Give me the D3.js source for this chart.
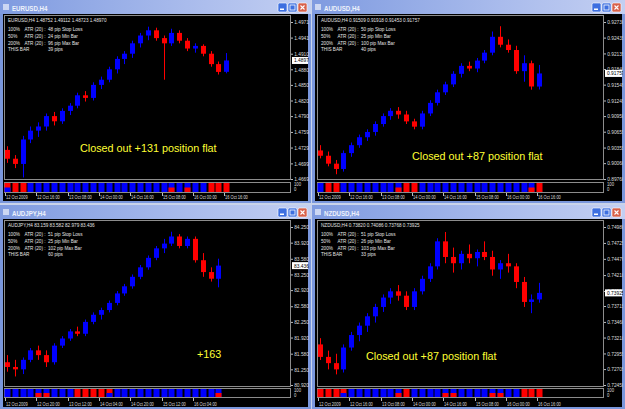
<!DOCTYPE html>
<html><head><meta charset="utf-8">
<script src="https://cdn.jsdelivr.net/npm/d3@7"></script>
<style>body{margin:0;background:#c9d3ea;} svg{display:block}</style>
</head><body>
<svg id="c" width="625" height="409"></svg>
<script>
// ---------------- DATA ----------------
const timeTicksA = ["12 Oct 2009","12 Oct 16:00","13 Oct 08:00","14 Oct 00:00","14 Oct 16:00","15 Oct 08:00","16 Oct 00:00","16 Oct 16:00"];
const timeTicksJPY = ["12 Oct 2009","12 Oct 20:00","13 Oct 12:00","14 Oct 04:00","14 Oct 20:00","15 Oct 12:00","16 Oct 04:00"];

const eurusdInfo = ["EURUSD,H4  1.48752 1.49112 1.48723 1.48970","48 pip Stop Loss","24 pip Min Bar","96 pip Max Bar","39 pips"];
const eurusdPriceTicks = [1.49710,1.49410,1.49100,1.48800,1.48500,1.48200,1.47900,1.47595,1.47295,1.46990,1.46690];
const eurusdOHLC = [
[1.4725,1.4732,1.4700,1.4708],[1.4708,1.4715,1.4690,1.4698],[1.4698,1.4752,1.4672,1.4745],[1.4745,1.4770,1.4738,1.4762],
[1.4762,1.4778,1.4750,1.4770],[1.4770,1.4795,1.4762,1.4790],[1.4790,1.4798,1.4772,1.4780],[1.4780,1.4805,1.4775,1.4800],
[1.4800,1.4815,1.4792,1.4810],[1.4810,1.4835,1.4805,1.4830],[1.4830,1.4838,1.4818,1.4825],[1.4825,1.4855,1.4820,1.4850],
[1.4850,1.4866,1.4842,1.4860],[1.4860,1.4885,1.4855,1.4880],[1.4880,1.4905,1.4872,1.4900],[1.4900,1.4915,1.4890,1.4910],
[1.4910,1.4935,1.4902,1.4930],[1.4930,1.4950,1.4922,1.4945],[1.4945,1.4962,1.4936,1.4955],[1.4955,1.4960,1.4935,1.4940],
[1.4940,1.4945,1.4860,1.4930],[1.4930,1.4958,1.4925,1.4950],[1.4950,1.4955,1.4930,1.4935],[1.4935,1.4940,1.4915,1.4920],
[1.4920,1.4930,1.4912,1.4925],[1.4925,1.4928,1.4905,1.4910],[1.4910,1.4915,1.4885,1.4890],[1.4890,1.4895,1.4870,1.4875],
[1.48752,1.49112,1.48723,1.48970]];
const eurusdIndBlue = [50,0,0,100,100,100,100,100,100,100,100,100,100,100,100,100,100,100,100,100,100,100,100,100,100,100,0,0,0];
const eurusdIndRed  = [100,100,100,0,0,0,0,0,0,0,0,0,0,0,0,0,0,0,0,0,0,50,0,50,0,0,100,100,100];
const eurusdNote = "Closed out +131 position flat";

const audusdInfo = ["AUDUSD,H4  0.91509 0.91918 0.91453 0.91757","50 pip Stop Loss","25 pip Min Bar","100 pip Max Bar","40 pips"];
const audusdPriceTicks = [0.92730,0.92435,0.92135,0.91840,0.91545,0.91245,0.90950,0.90655,0.90355,0.90060,0.89760];
const audusdOHLC = [
[0.9030,0.9040,0.9015,0.9020],[0.9020,0.9028,0.9000,0.9005],[0.9005,0.9012,0.8985,0.8995],[0.8995,0.9030,0.8990,0.9025],
[0.9025,0.9045,0.9018,0.9040],[0.9040,0.9060,0.9035,0.9055],[0.9055,0.9070,0.9048,0.9065],[0.9065,0.9085,0.9058,0.9080],
[0.9080,0.9100,0.9075,0.9095],[0.9095,0.9110,0.9088,0.9105],[0.9105,0.9112,0.9090,0.9098],[0.9098,0.9105,0.9080,0.9085],
[0.9085,0.9090,0.9070,0.9075],[0.9075,0.9105,0.9070,0.9100],[0.9100,0.9125,0.9095,0.9120],[0.9120,0.9145,0.9115,0.9140],
[0.9140,0.9160,0.9135,0.9155],[0.9155,0.9180,0.9150,0.9175],[0.9175,0.9195,0.9168,0.9190],[0.9190,0.9198,0.9180,0.9185],
[0.9185,0.9205,0.9178,0.9200],[0.9200,0.9220,0.9195,0.9215],[0.9215,0.9255,0.9210,0.9245],[0.9245,0.9265,0.9225,0.9230],
[0.9230,0.9240,0.9215,0.9220],[0.9220,0.9228,0.9175,0.9180],[0.9180,0.9210,0.9160,0.9195],[0.9195,0.9200,0.9145,0.9151],
[0.91509,0.91918,0.91453,0.91757]];
const audusdIndBlue = [100,0,0,100,100,100,100,100,100,100,100,0,0,100,100,100,100,100,100,100,100,100,100,100,100,100,100,100,0];
const audusdIndRed  = [0,100,100,0,0,0,0,0,0,0,50,100,100,0,0,0,0,0,0,0,0,0,0,0,0,0,0,50,100];
const audusdNote = "Closed out +87 position flat";

const audjpyInfo = ["AUDJPY,H4  83.159 83.582 82.979 83.436","51 pip Stop Loss","25 pip Min Bar","102 pip Max Bar","60 pips"];
const audjpyPriceTicks = [84.250,83.920,83.580,83.250,82.920,82.580,82.250,81.920,81.580,81.250,80.920];
const audjpyOHLC = [
[81.40,81.55,81.20,81.30],[81.30,81.45,81.10,81.25],[81.25,81.50,81.15,81.45],[81.45,81.70,81.40,81.65],
[81.65,81.75,81.45,81.55],[81.55,81.65,81.30,81.40],[81.40,81.80,81.35,81.75],[81.75,81.95,81.70,81.90],
[81.90,82.10,81.85,82.05],[82.05,82.15,81.95,82.00],[82.00,82.30,81.95,82.25],[82.25,82.45,82.20,82.40],
[82.40,82.55,82.30,82.50],[82.50,82.70,82.45,82.65],[82.65,82.90,82.60,82.85],[82.85,83.05,82.80,83.00],
[83.00,83.25,82.95,83.20],[83.20,83.45,83.15,83.40],[83.40,83.65,83.35,83.60],[83.60,83.85,83.55,83.80],
[83.80,84.00,83.70,83.90],[83.90,84.15,83.85,84.05],[84.05,84.10,83.80,83.85],[83.85,84.05,83.80,84.00],
[84.00,84.05,83.50,83.55],[83.55,83.70,83.20,83.30],[83.30,83.40,83.10,83.16],[83.159,83.582,82.979,83.436]];
const audjpyIndBlue = [100,100,100,100,100,100,100,100,100,0,0,0,0,50,100,100,100,100,100,100,100,100,100,100,100,100,100,100];
const audjpyIndRed  = [0,0,0,0,50,50,0,0,0,100,100,100,100,100,0,0,0,0,0,0,0,0,0,0,0,0,0,50];
const audjpyNote = "+163";

const nzdusdInfo = ["NZDUSD,H4  0.73820 0.74086 0.73768 0.73925","51 pip Stop Loss","26 pip Min Bar","103 pip Max Bar","33 pips"];
const nzdusdPriceTicks = [0.74980,0.74725,0.74470,0.74210,0.73955,0.73715,0.73460,0.73210,0.72955,0.72705,0.72450];
const nzdusdOHLC = [
[0.7310,0.7320,0.7285,0.7290],[0.7290,0.7300,0.7270,0.7280],[0.7280,0.7295,0.7262,0.7270],[0.7270,0.7310,0.7265,0.7305],
[0.7305,0.7330,0.7300,0.7325],[0.7325,0.7345,0.7315,0.7340],[0.7340,0.7360,0.7330,0.7355],[0.7355,0.7375,0.7345,0.7370],
[0.7370,0.7390,0.7362,0.7385],[0.7385,0.7400,0.7375,0.7395],[0.7395,0.7405,0.7380,0.7388],[0.7388,0.7395,0.7365,0.7370],
[0.7370,0.7400,0.7365,0.7395],[0.7395,0.7420,0.7390,0.7415],[0.7415,0.7440,0.7410,0.7435],[0.7435,0.7480,0.7430,0.7475],
[0.7475,0.7490,0.7440,0.7450],[0.7450,0.7465,0.7425,0.7440],[0.7440,0.7460,0.7430,0.7455],[0.7455,0.7470,0.7440,0.7448],
[0.7448,0.7462,0.7435,0.7458],[0.7458,0.7475,0.7445,0.7450],[0.7450,0.7460,0.7420,0.7430],[0.7430,0.7445,0.7415,0.7440],
[0.7440,0.7455,0.7425,0.7435],[0.7435,0.7440,0.7400,0.7410],[0.7410,0.7418,0.7370,0.7378],[0.7378,0.7390,0.7360,0.7382],
[0.73820,0.74086,0.73768,0.73925]];
const nzdusdIndBlue = [0,0,0,50,100,100,100,100,100,100,100,0,100,100,100,100,100,100,100,100,100,100,100,100,100,100,0,0,0];
const nzdusdIndRed  = [100,100,100,100,0,0,0,0,0,0,50,100,0,0,0,0,50,50,0,0,0,0,50,50,0,0,100,100,100];
const nzdusdNote = "Closed out +87 position flat";

const atrLabels = ["100%","50%","200%"];

// ---------------- LAYOUT ----------------
const FONT = "Liberation Sans, Arial, sans-serif";
const BULL = "#0000ff", BEAR = "#ff0000";
const panels = [
 {id:"eu", title:"EURUSD,H4", ox:0, oy:0, w:311, h:203, plotL:4, plotR:291, plotT:15, plotB:180, indT:182, indB:193, yTop:22, yBot:179, timeY:199,
  ohlc:eurusdOHLC, ticks:eurusdPriceTicks, fmt:".5f", times:timeTicksA, info:eurusdInfo, indBlue:eurusdIndBlue, indRed:eurusdIndRed, note:eurusdNote, noteX:80, noteY:152},
 {id:"au", title:"AUDUSD,H4", ox:312, oy:0, w:313, h:203, plotL:5, plotR:292, plotT:15, plotB:180, indT:182, indB:193, yTop:22, yBot:179, timeY:199,
  ohlc:audusdOHLC, ticks:audusdPriceTicks, fmt:".5f", times:timeTicksA, info:audusdInfo, indBlue:audusdIndBlue, indRed:audusdIndRed, note:audusdNote, noteX:100, noteY:160},
 {id:"aj", title:"AUDJPY,H4", ox:0, oy:205, w:311, h:204, plotL:4, plotR:291, plotT:15, plotB:182, indT:183, indB:193, yTop:22, yBot:180, timeY:201,
  ohlc:audjpyOHLC, ticks:audjpyPriceTicks, fmt:".3f", times:timeTicksJPY, info:audjpyInfo, indBlue:audjpyIndBlue, indRed:audjpyIndRed, note:audjpyNote, noteX:197, noteY:153},
 {id:"nz", title:"NZDUSD,H4", ox:312, oy:205, w:313, h:204, plotL:5, plotR:292, plotT:15, plotB:182, indT:183, indB:193, yTop:22, yBot:180, timeY:201,
  ohlc:nzdusdOHLC, ticks:nzdusdPriceTicks, fmt:".5f", times:timeTicksA, info:nzdusdInfo, indBlue:nzdusdIndBlue, indRed:nzdusdIndRed, note:nzdusdNote, noteX:54, noteY:155}
];

const svg = d3.select("#c");
const defs = svg.append("defs");
const tg = defs.append("linearGradient").attr("id","tb");
tg.append("stop").attr("offset","0").attr("stop-color","#7f9be0");
tg.append("stop").attr("offset","0.6").attr("stop-color","#a9bbec");
tg.append("stop").attr("offset","1").attr("stop-color","#c3cff2");

function txt(g, x, y, s, size, fill, sx, anchor){
  return g.append("text").attr("transform",`translate(${x},${y}) scale(${sx},1)`)
    .attr("text-anchor",anchor||"start").attr("font-family",FONT).attr("font-size",size).attr("fill",fill).text(s);
}

function drawPanel(p){
  const n = p.ohlc.length;
  defs.append("clipPath").attr("id","w"+p.id).append("rect").attr("width",p.w-2).attr("height",p.h);
  defs.append("clipPath").attr("id","p"+p.id).append("rect").attr("x",p.plotL).attr("y",p.plotT).attr("width",p.plotR-p.plotL).attr("height",p.plotB-p.plotT);
  const g0 = svg.append("g").attr("transform",`translate(${p.ox},${p.oy})`);
  g0.append("rect").attr("width",p.w).attr("height",p.h).attr("fill","#7a97dc");
  g0.append("rect").attr("x",0).attr("y",0).attr("width",p.w).attr("height",14).attr("fill","url(#tb)");
  g0.append("rect").attr("x",3).attr("y",14).attr("width",p.w-6).attr("height",p.h-16).attr("fill","#000");
  const g = g0.append("g").attr("clip-path",`url(#w${p.id})`);
  g0.append("rect").attr("x",3).attr("y",4).attr("width",6).attr("height",6).attr("fill","#dfe6f7").attr("opacity",0.8);
  txt(g0, 12, 10.5, p.title, 6.6, "#eef2fb", 0.93).attr("font-weight","bold");
  const bx = p.w-33;
  [[bx,"#3d6fe0","min"],[bx+10,"#3d6fe0","max"],[bx+20,"#d8614a","close"]].forEach(([x,c,t])=>{
    g0.append("rect").attr("x",x).attr("y",3).attr("width",9).attr("height",9).attr("rx",1.5).attr("fill",c).attr("stroke","#fff").attr("stroke-width",0.6);
    if(t==="min") g0.append("rect").attr("x",x+2).attr("y",8.5).attr("width",4).attr("height",1.5).attr("fill","#fff");
    if(t==="max") g0.append("rect").attr("x",x+2).attr("y",5).attr("width",5).attr("height",5).attr("fill","none").attr("stroke","#fff").attr("stroke-width",0.8);
    if(t==="close") g0.append("path").attr("d",`M${x+2.5},5.5L${x+6.5},9.5M${x+6.5},5.5L${x+2.5},9.5`).attr("stroke","#fff").attr("stroke-width",1.1);
  });

  const x = d3.scaleLinear().domain([0, n-1]).range([p.plotL+3, p.plotL+3+7.83*(n-1)]);
  const y = d3.scaleLinear().domain([p.ticks[p.ticks.length-1], p.ticks[0]]).range([p.yBot, p.yTop]);
  const yi = d3.scaleLinear().domain([0,100]).range([p.indB-1, p.indT+1]);

  g.append("rect").attr("x",p.plotL+0.5).attr("y",p.plotT+0.5).attr("width",p.plotR-p.plotL-1).attr("height",p.plotB-p.plotT-1)
    .attr("fill","none").attr("stroke","#8c8c8c").attr("stroke-width",1);
  g.append("rect").attr("x",p.plotL+0.5).attr("y",p.indT+0.5).attr("width",p.plotR-p.plotL-1).attr("height",p.indB-p.indT-1)
    .attr("fill","none").attr("stroke","#8c8c8c").attr("stroke-width",1);

  const cg = g.append("g").attr("clip-path",`url(#p${p.id})`);
  const col = d => d[3] >= d[0] ? BULL : BEAR;
  cg.selectAll("line.wick").data(p.ohlc).join("line")
    .attr("x1",(d,i)=>Math.round(x(i))+0.5).attr("x2",(d,i)=>Math.round(x(i))+0.5)
    .attr("y1",d=>y(d[1])).attr("y2",d=>y(d[2])).attr("stroke",col).attr("stroke-width",1);
  cg.selectAll("rect.body").data(p.ohlc).join("rect")
    .attr("x",(d,i)=>Math.round(x(i))-2).attr("width",5)
    .attr("y",d=>y(Math.max(d[0],d[3])))
    .attr("height",d=>Math.max(1, Math.abs(y(d[0])-y(d[3]))))
    .attr("fill",col);

  const IF = 5.6, IC = "#e4e4e4", SX = 0.83;
  txt(g, p.plotL+4, p.plotT+6.5, p.info[0], IF, IC, SX);
  atrLabels.forEach((l,k)=>{
    const yy = p.plotT+16 + k*6.8;
    txt(g, p.plotL+4, yy, l, IF, IC, SX);
    txt(g, p.plotL+41.5, yy, "ATR (20) :", IF, IC, SX, "end");
    txt(g, p.plotL+44, yy, p.info[k+1], IF, IC, SX);
  });
  txt(g, p.plotL+4, p.plotT+16+3*6.8, "THIS BAR", IF, IC, SX);
  txt(g, p.plotL+44, p.plotT+16+3*6.8, p.info[4], IF, IC, SX);

  g.append("text").attr("x",p.noteX).attr("y",p.noteY).text(p.note)
    .attr("font-family",FONT).attr("font-size",10.8).attr("fill","#ffff33");

  const ig = g.append("g");
  p.indBlue.forEach((b,i)=>{
    const r = p.indRed[i];
    const parts = b>=r ? [[b,BULL],[r,BEAR]] : [[r,BEAR],[b,BULL]];
    parts.forEach(([v,c])=>{ if(v>0) ig.append("rect").attr("x",Math.round(x(i))-2.5).attr("width",6)
      .attr("y",yi(v)).attr("height",yi(0)-yi(v)).attr("fill",c); });
  });
  txt(g, p.plotR+3, p.indT+4, "100", 5, "#ddd", 0.85);
  txt(g, p.plotR+3, p.indT+9, "0", 5, "#ddd", 0.85);

  const ax = g.append("g").attr("transform",`translate(${p.plotR},0)`)
    .call(d3.axisRight(y).tickValues(p.ticks).tickFormat(d3.format(p.fmt)).tickSize(2).tickPadding(1.5));
  ax.select(".domain").remove();
  ax.selectAll("line").attr("stroke","#bbb");
  ax.selectAll("text").attr("font-family",FONT).attr("font-size",5.4).attr("fill","#dcdcdc").attr("transform","scale(0.9,1)");
  const last = p.ohlc[n-1][3];
  g.append("rect").attr("x",p.plotR+1).attr("y",y(last)-3.5).attr("width",p.w-p.plotR-4).attr("height",7).attr("fill","#fff");
  txt(g, p.plotR+3, y(last)+2, d3.format(p.fmt)(last), 5.4, "#000", 0.9);

  const tg2 = g.append("g");
  p.times.forEach((t,k)=>{
    const xx = Math.round(x(k*4))-1.5;
    tg2.append("line").attr("x1",xx).attr("x2",xx).attr("y1",p.indB).attr("y2",p.indB+3).attr("stroke","#bbb");
    txt(tg2, xx+0.5, p.timeY, t, 5, "#dcdcdc", 0.8);
  });
}
panels.forEach(drawPanel);
</script>
</body></html>
